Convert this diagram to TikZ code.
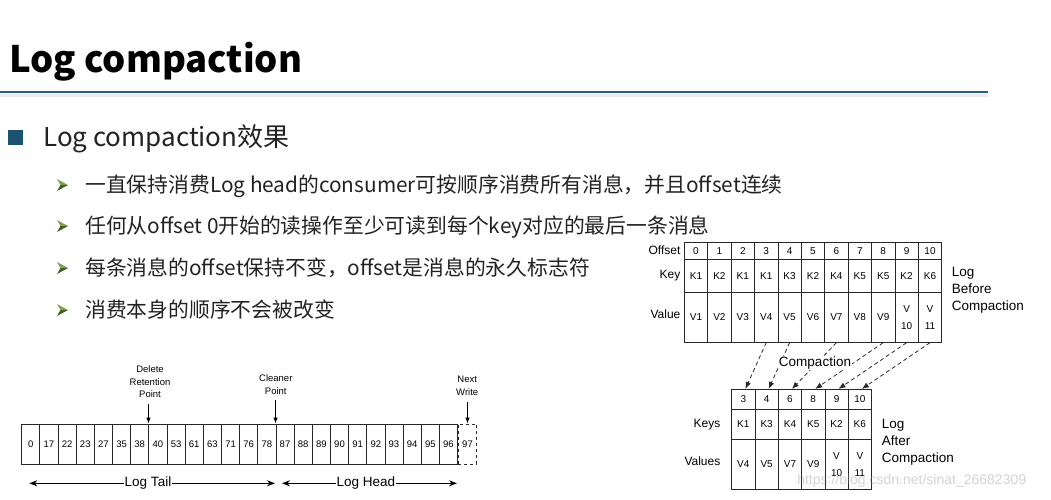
\documentclass[tikz,border=0pt]{standalone}
\usepackage{fontspec}
\setmainfont{Liberation Sans}
\newfontfamily\cjkfont{Noto Sans CJK SC}
\usetikzlibrary{arrows.meta,positioning}
\definecolor{rulecolor}{RGB}{38,96,128}
\definecolor{squarecolor}{RGB}{28,82,112}
\definecolor{pointcolor}{RGB}{62,96,34}
\definecolor{pointlight}{RGB}{128,160,80}
\definecolor{textcolor}{RGB}{34,34,34}
\definecolor{gridcolor}{RGB}{40,40,40}

\begin{document}
\begin{tikzpicture}[
    x=1pt, y=-1pt,
    cell/.style={
        draw=gridcolor,
        line width=0.75pt,
        inner sep=0pt,
        align=center,
        font=\fontsize{10}{17}\selectfont,
    },
    topcell/.style={cell, minimum width=23.4pt},
    lowcell/.style={cell, minimum width=23.3pt},
    logcell/.style={cell, minimum width=18.16pt, minimum height=40pt, font=\fontsize{9.5}{10}\selectfont},
    rowlabel/.style={font=\fontsize{12}{14}\selectfont},
    sidelabel/.style={align=left, anchor=west, inner sep=0pt, font=\fontsize{13.5}{17}\selectfont},
    pointer/.style={align=center, inner sep=0pt, font=\fontsize{9.5}{12.5}\selectfont},
    tick/.style={line width=0.9pt, shorten <=6pt, -{Latex[length=6pt,width=4.5pt]}},
    bullet/.style={anchor=base west, inner sep=0pt, text=textcolor, font=\cjkfont\fontsize{20.8}{24}\selectfont},
    compact/.style={draw=gridcolor, line width=0.8pt, dash pattern=on 4pt off 3pt, -{Latex[length=7pt,width=5.5pt]}},
    span/.style={line width=1.3pt, -{Stealth[length=8pt,width=6pt]}},
    ]
    \useasboundingbox (0,0) rectangle (1051,499);

    % slide title and rule
    \node[anchor=base west, inner sep=0pt, font=\cjkfont\bfseries\fontsize{36.5}{40}\selectfont] (title) at (9,72.7) {Log compaction};
    \draw[black!8, line width=3pt] (0,95.2) -- (988,95.2);
    \draw[rulecolor, line width=1.8pt] (0,92.3) -- (988,92.3);

    % bullets
    \node[fill=squarecolor, minimum size=15pt, inner sep=0pt] (square) at (15,137.5) {};
    \node[anchor=base west, inner sep=0pt, text=textcolor, font=\cjkfont\fontsize{26}{30}\selectfont] (effect) at (43,146.7) {Log compaction效果};
    \foreach \y/\t [count=\i] in {185/{一直保持消费Log head的consumer可按顺序消费所有消息，并且offset连续},
                                  226/{任何从offset 0开始的读操作至少可读到每个key对应的最后一条消息},
                                  268/{每条消息的offset保持不变，offset是消息的永久标志符},
                                  310/{消费本身的顺序不会被改变}} {
        \fill[pointlight] (57,\y-6) -- (68,\y) -- (60.5,\y) -- cycle;
        \fill[pointcolor] (57,\y+6) -- (68,\y) -- (60.5,\y) -- cycle;
        \node[bullet] (point\i) at (85,\y+7.8) {\t};
    }

    % log before compaction
    \foreach \o/\k/\v in {0/K1/V1, 1/K2/V2, 2/K1/V3, 3/K1/V4, 4/K3/V5, 5/K2/V6,
                          6/K4/V7, 7/K5/V8, 8/K5/V9, 9/K2/{V\\10}, 10/K6/{V\\11}} {
        \node[topcell, minimum height=16.7pt] (o\o) at ({696+23.4*\o}, 250.65) {\o};
        \node[topcell, minimum height=33.3pt] (k\o) at ({696+23.4*\o}, 275.65) {\k};
        \node[topcell, minimum height=50pt] (v\o) at ({696+23.4*\o}, 317.3) {\v};
    }
    \node[rowlabel, left=0pt of o0] (offsetlabel) {Offset};
    \node[rowlabel, left=0pt of k0] (keylabel) {Key};
    \node[rowlabel, left=0pt of v0, yshift=3pt] (valuelabel) {Value};
    \node[sidelabel] (before) at (951.7,290) {Log\\Before\\Compaction};

    % log after compaction
    \foreach \o/\k/\v [count=\i from 0] in {3/K1/V4, 4/K3/V5, 6/K4/V7, 8/K5/V9, 9/K2/{V\\10}, 10/K6/{V\\11}} {
        \node[lowcell, minimum height=20pt] (co\i) at ({743.35+23.3*\i}, 399.3) {\o};
        \node[lowcell, minimum height=30pt] (ck\i) at ({743.35+23.3*\i}, 424.3) {\k};
        \node[lowcell, minimum height=50pt] (cv\i) at ({743.35+23.3*\i}, 464.3) {\v};
        \draw[compact] (v\o.south) -- ([xshift=2pt]co\i.north);
    }
    \node[fill=white, inner sep=1pt, font=\fontsize{13.5}{15}\selectfont] (compaction) at (815,363) {Compaction};
    \node[rowlabel, left=7.5pt of ck0] (keyslabel) {Keys};
    \node[rowlabel, left=7.5pt of cv0, yshift=3.5pt] (valueslabel) {Values};
    \node[sidelabel] (after) at (881.7,442) {Log\\After\\Compaction};

    % log segment
    \foreach \n [count=\i from 0] in {0,17,22,23,27,35,38,40,53,61,63,71,76,78,87,88,89,90,91,92,93,94,95,96} {
        \node[logcell] (s\i) at ({30.78+18.16*\i}, 444) {\n};
    }
    \node[logcell, dashed, minimum width=18.4pt] (s24) at (467.5,444) {97};

    \node[pointer] (retention) at (150,382) {Delete\\Retention\\Point};
    \node[pointer] (cleaner) at (275.8,384.5) {Cleaner\\Point};
    \node[pointer] (next) at (467.2,386) {Next\\Write};
    \draw[tick] (retention.south -| s7.north west) -- (s7.north west);
    \draw[tick] (cleaner.south -| s14.north west) -- (s14.north west);
    \draw[tick] (next.south -| s24.north) -- (s24.north);

    \node[inner sep=0.5pt, font=\fontsize{13.5}{15}\selectfont] (tail) at (148,482.5) {Log Tail};
    \node[inner sep=0.5pt, font=\fontsize{13.5}{15}\selectfont] (head) at (366,482.5) {Log Head};
    \coordinate (tailleft) at (29.3,483.3);
    \coordinate (tailright) at (275,483.3);
    \coordinate (headleft) at (282,483.3);
    \coordinate (headright) at (457,483.3);
    \draw[span] (tail.west |- tailleft) -- (tailleft);
    \draw[span] (tail.east |- tailright) -- (tailright);
    \draw[span] (head.west |- headleft) -- (headleft);
    \draw[span] (head.east |- headright) -- (headright);

    \node[text=gray, opacity=0.35, inner sep=0pt, font=\fontsize{14}{16}\selectfont] (watermark) at (911.7,481) {https://blog.csdn.net/sinat\_26682309};
\end{tikzpicture}
\end{document}
